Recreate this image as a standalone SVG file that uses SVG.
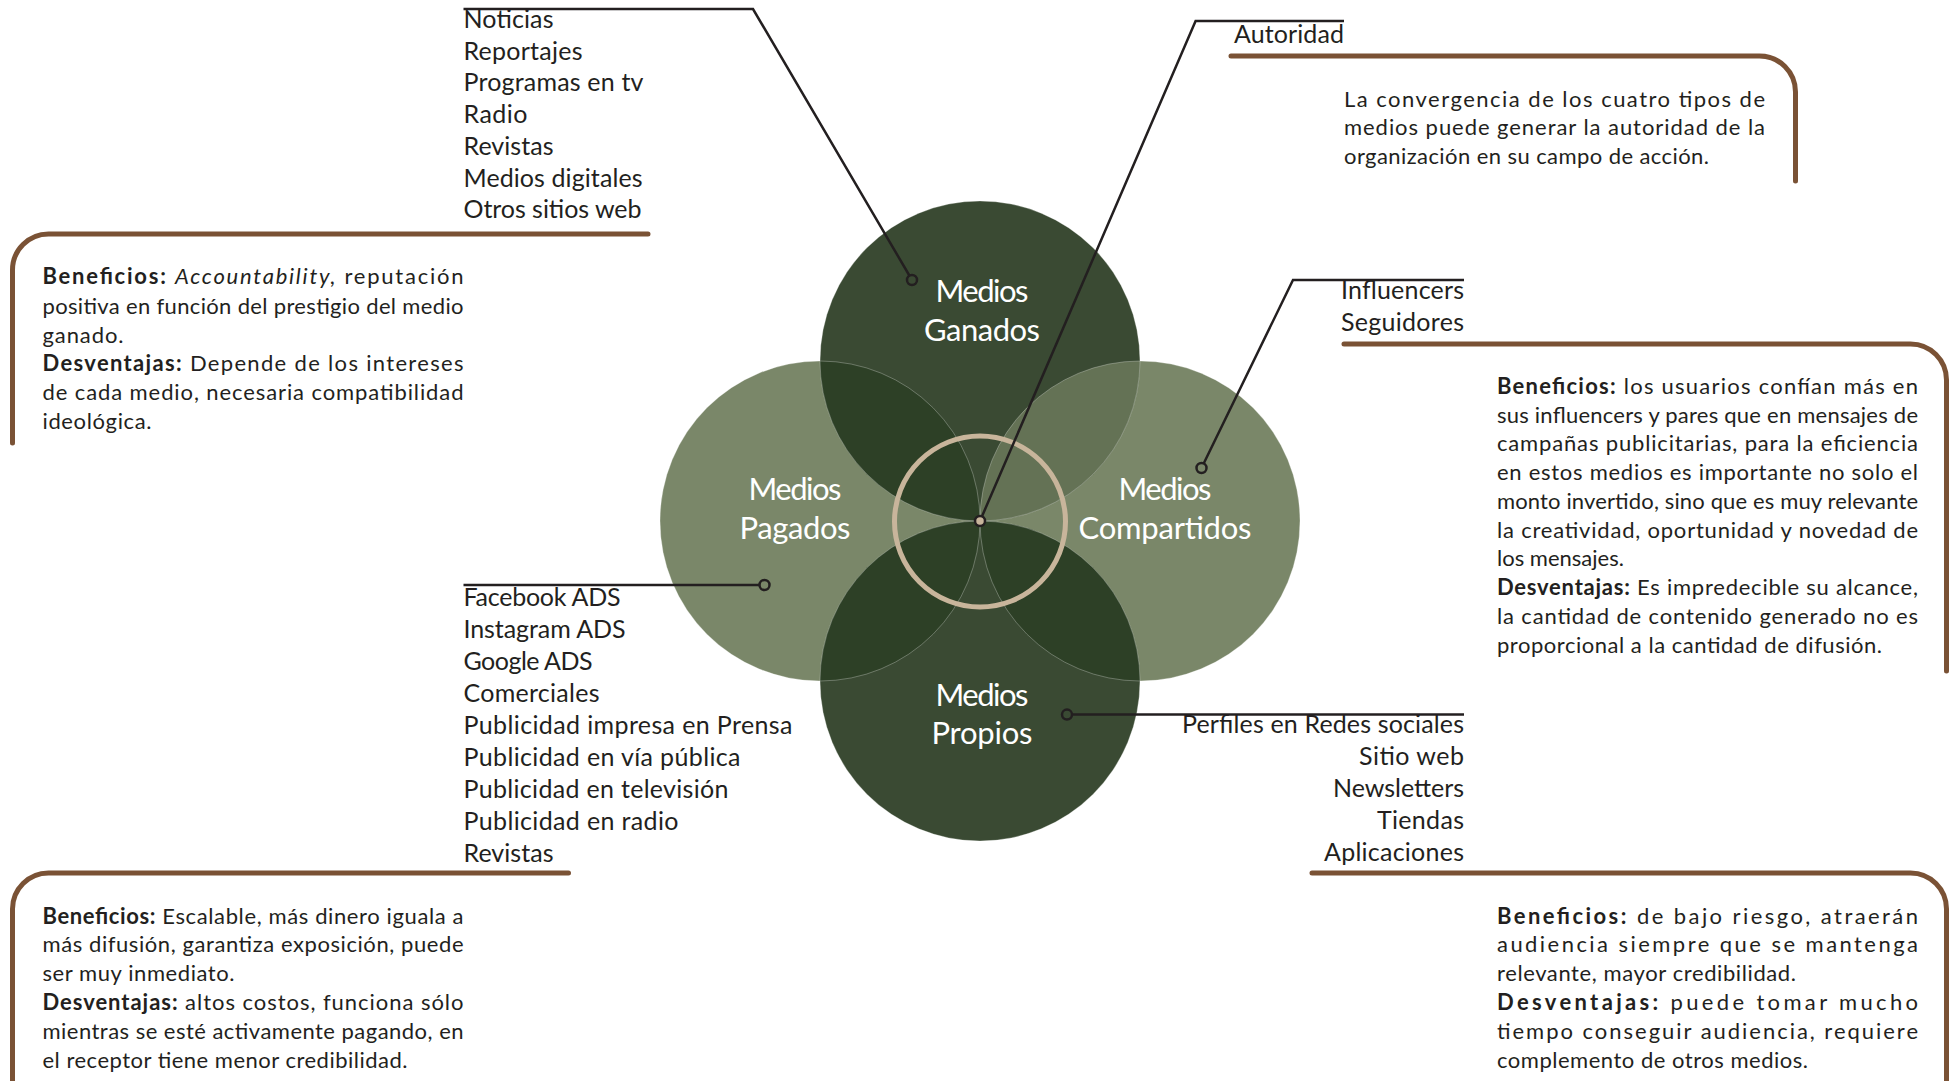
<svg xmlns="http://www.w3.org/2000/svg" width="1959" height="1081" viewBox="0 0 1959 1081">
  <style>
    .t{font-family:Lato,"Noto Sans",sans-serif;fill:#231f20}
    .li{font-size:25px}
    .p{font-size:22px}
    .b{font-weight:700}
    .i{font-style:italic}
    .lbl{font-family:Lato,"Noto Sans",sans-serif;font-size:31px;fill:#ffffff}
    .br{fill:none;stroke:#7a5235;stroke-width:5;stroke-linecap:round;stroke-linejoin:round}
    .ld{fill:none;stroke:#231f20;stroke-width:2.5;stroke-linejoin:miter}
    .dot{stroke:#231f20;stroke-width:2.5}
    .edge{fill:none;stroke:#ffffff;stroke-opacity:0.28;stroke-width:1}
  </style>
  <defs>
    <circle id="cG" cx="980" cy="361" r="160"/>
    <circle id="cP" cx="820" cy="521" r="160"/>
    <circle id="cC" cx="1140" cy="521" r="160"/>
    <circle id="cR" cx="980" cy="681" r="160"/>
    <clipPath id="clipP"><circle cx="820" cy="521" r="160"/></clipPath>
    <clipPath id="clipC"><circle cx="1140" cy="521" r="160"/></clipPath>
  </defs>

  <rect width="1959" height="1081" fill="#ffffff"/>

  <!-- Venn of the four media types -->
  <g id="venn">
    <use href="#cP" fill="#7a8769"/>
    <use href="#cC" fill="#7a8769"/>
    <use href="#cG" fill="#3a4a33"/>
    <use href="#cR" fill="#3a4a33"/>
    <g clip-path="url(#clipP)">
      <use href="#cG" fill="#2d4026"/>
      <use href="#cR" fill="#2d4026"/>
    </g>
    <g clip-path="url(#clipC)">
      <use href="#cG" fill="#647255"/>
      <use href="#cR" fill="#2d4026"/>
    </g>
    <use href="#cG" class="edge"/>
    <use href="#cP" class="edge"/>
    <use href="#cC" class="edge"/>
    <use href="#cR" class="edge"/>
  </g>

  <g id="medios-ganados">
    <text class="lbl" x="935.5" y="302" textLength="93" lengthAdjust="spacing">Medios</text>
    <text class="lbl" x="924" y="341" textLength="116" lengthAdjust="spacing">Ganados</text>
  </g>
  <g id="medios-pagados">
    <text class="lbl" x="748.5" y="500" textLength="93" lengthAdjust="spacing">Medios</text>
    <text class="lbl" x="739.5" y="539" textLength="111" lengthAdjust="spacing">Pagados</text>
  </g>
  <g id="medios-compartidos">
    <text class="lbl" x="1118.5" y="500" textLength="93" lengthAdjust="spacing">Medios</text>
    <text class="lbl" x="1078.5" y="539" textLength="173" lengthAdjust="spacing">Compartidos</text>
  </g>
  <g id="medios-propios">
    <text class="lbl" x="935.5" y="706" textLength="93" lengthAdjust="spacing">Medios</text>
    <text class="lbl" x="931.5" y="744" textLength="101" lengthAdjust="spacing">Propios</text>
  </g>

  <!-- convergence ring -->
  <g id="autoridad-centro">
    <circle cx="980" cy="521.5" r="85.5" fill="none" stroke="#c8b59b" stroke-width="5"/>
  </g>

  <!-- leader lines and anchor dots -->
  <g id="connectors">
    <path class="ld" d="M463.5,9 H753 L912,280"/>
    <path class="ld" d="M1344,21 H1195.6 L980,521"/>
    <path class="ld" d="M1464,280 H1293 L1201.5,468"/>
    <path class="ld" d="M463.5,585 H764.5"/>
    <path class="ld" d="M1464,714.6 H1067"/>
    <circle class="dot" cx="912" cy="280" r="5" fill="#3a4a33"/>
    <circle class="dot" cx="1201.5" cy="468" r="5" fill="#7a8769"/>
    <circle class="dot" cx="764.5" cy="585" r="5" fill="#7a8769"/>
    <circle class="dot" cx="1067" cy="714.6" r="5" fill="#3a4a33"/>
    <circle class="dot" cx="980" cy="521" r="5" fill="#c8b59b"/>
  </g>

  <!-- brown brackets -->
  <g id="brackets">
    <path class="br" d="M648,234 H48.5 A36,36 0 0 0 12.5,270 V443"/>
    <path class="br" d="M1231,56 H1759.5 A36,36 0 0 1 1795.5,92 V181"/>
    <path class="br" d="M1344,344 H1910.5 A36,36 0 0 1 1946.5,380 V671"/>
    <path class="br" d="M568.5,873 H48.5 A36,36 0 0 0 12.5,909 V1095"/>
    <path class="br" d="M1312,873 H1910.5 A36,36 0 0 1 1946.5,909 V1095"/>
  </g>

  <g id="lista-ganados" class="t li">
    <text x="463.5" y="28" textLength="90" lengthAdjust="spacing">Noticias</text>
    <text x="463.5" y="59.7" textLength="119" lengthAdjust="spacing">Reportajes</text>
    <text x="463.5" y="91.4" textLength="180" lengthAdjust="spacing">Programas en tv</text>
    <text x="463.5" y="123.1" textLength="64" lengthAdjust="spacing">Radio</text>
    <text x="463.5" y="154.8" textLength="90" lengthAdjust="spacing">Revistas</text>
    <text x="463.5" y="186.5" textLength="179" lengthAdjust="spacing">Medios digitales</text>
    <text x="463.5" y="218.2" textLength="178" lengthAdjust="spacing">Otros sitios web</text>
  </g>

  <g id="texto-ganados" class="t p">
    <text x="42.5" y="283.5" textLength="421" lengthAdjust="spacing"><tspan class="b">Beneficios:</tspan> <tspan class="i">Accountability,</tspan> reputación</text>
    <text x="42.5" y="313.5" textLength="421" lengthAdjust="spacing">positiva en función del prestigio del medio</text>
    <text x="42.5" y="342.5" textLength="81" lengthAdjust="spacing">ganado.</text>
    <text x="42.5" y="370.5" textLength="421" lengthAdjust="spacing"><tspan class="b">Desventajas:</tspan> Depende de los intereses</text>
    <text x="42.5" y="399.5" textLength="421" lengthAdjust="spacing">de cada medio, necesaria compatibilidad</text>
    <text x="42.5" y="428.5" textLength="109" lengthAdjust="spacing">ideológica.</text>
  </g>

  <g id="autoridad" class="t">
    <text class="li" x="1234" y="42.5" textLength="110" lengthAdjust="spacing">Autoridad</text>
    <g class="p">
      <text x="1344" y="106.5" textLength="421" lengthAdjust="spacing">La convergencia de los cuatro tipos de</text>
      <text x="1344" y="134.5" textLength="421" lengthAdjust="spacing">medios puede generar la autoridad de la</text>
      <text x="1344" y="163.5" textLength="365" lengthAdjust="spacing">organización en su campo de acción.</text>
    </g>
  </g>

  <g id="lista-compartidos" class="t li">
    <text x="1341" y="298.5" textLength="123" lengthAdjust="spacing">Influencers</text>
    <text x="1341" y="330.5" textLength="123" lengthAdjust="spacing">Seguidores</text>
  </g>

  <g id="texto-compartidos" class="t p">
    <text x="1497" y="393.5" textLength="421" lengthAdjust="spacing"><tspan class="b">Beneficios:</tspan> los usuarios confían más en</text>
    <text x="1497" y="422.5" textLength="421" lengthAdjust="spacing">sus influencers y pares que en mensajes de</text>
    <text x="1497" y="450.5" textLength="421" lengthAdjust="spacing">campañas publicitarias, para la eficiencia</text>
    <text x="1497" y="479.5" textLength="421" lengthAdjust="spacing">en estos medios es importante no solo el</text>
    <text x="1497" y="508.5" textLength="421" lengthAdjust="spacing">monto invertido, sino que es muy relevante</text>
    <text x="1497" y="537.5" textLength="421" lengthAdjust="spacing">la creatividad, oportunidad y novedad de</text>
    <text x="1497" y="565.5">los mensajes.</text>
    <text x="1497" y="594.5" textLength="421" lengthAdjust="spacing"><tspan class="b">Desventajas:</tspan> Es impredecible su alcance,</text>
    <text x="1497" y="623.5" textLength="421" lengthAdjust="spacing">la cantidad de contenido generado no es</text>
    <text x="1497" y="652.5" textLength="385" lengthAdjust="spacing">proporcional a la cantidad de difusión.</text>
  </g>

  <g id="lista-pagados" class="t li">
    <text x="463.5" y="606" textLength="157" lengthAdjust="spacing">Facebook ADS</text>
    <text x="463.5" y="638" textLength="162" lengthAdjust="spacing">Instagram ADS</text>
    <text x="463.5" y="670" textLength="129" lengthAdjust="spacing">Google ADS</text>
    <text x="463.5" y="702" textLength="136" lengthAdjust="spacing">Comerciales</text>
    <text x="463.5" y="734" textLength="329" lengthAdjust="spacing">Publicidad impresa en Prensa</text>
    <text x="463.5" y="766" textLength="277" lengthAdjust="spacing">Publicidad en vía pública</text>
    <text x="463.5" y="798" textLength="265" lengthAdjust="spacing">Publicidad en televisión</text>
    <text x="463.5" y="830" textLength="215" lengthAdjust="spacing">Publicidad en radio</text>
    <text x="463.5" y="862" textLength="90" lengthAdjust="spacing">Revistas</text>
  </g>

  <g id="texto-pagados" class="t p">
    <text x="42.5" y="923.5" textLength="421" lengthAdjust="spacing"><tspan class="b">Beneficios:</tspan> Escalable, más dinero iguala a</text>
    <text x="42.5" y="951.5" textLength="421" lengthAdjust="spacing">más difusión, garantiza exposición, puede</text>
    <text x="42.5" y="980.5" textLength="192" lengthAdjust="spacing">ser muy inmediato.</text>
    <text x="42.5" y="1009.5" textLength="421" lengthAdjust="spacing"><tspan class="b">Desventajas:</tspan> altos costos, funciona sólo</text>
    <text x="42.5" y="1038.5" textLength="421" lengthAdjust="spacing">mientras se esté activamente pagando, en</text>
    <text x="42.5" y="1067.5" textLength="365" lengthAdjust="spacing">el receptor tiene menor credibilidad.</text>
  </g>

  <g id="lista-propios" class="t li">
    <text x="1182" y="733" textLength="282" lengthAdjust="spacing">Perfiles en Redes sociales</text>
    <text x="1359" y="765" textLength="105" lengthAdjust="spacing">Sitio web</text>
    <text x="1333" y="797" textLength="131" lengthAdjust="spacing">Newsletters</text>
    <text x="1377" y="829" textLength="87" lengthAdjust="spacing">Tiendas</text>
    <text x="1324" y="861" textLength="140" lengthAdjust="spacing">Aplicaciones</text>
  </g>

  <g id="texto-propios" class="t p">
    <text x="1497" y="923.5" textLength="421" lengthAdjust="spacing"><tspan class="b">Beneficios:</tspan> de bajo riesgo, atraerán</text>
    <text x="1497" y="951.5" textLength="421" lengthAdjust="spacing">audiencia siempre que se mantenga</text>
    <text x="1497" y="980.5" textLength="299" lengthAdjust="spacing">relevante, mayor credibilidad.</text>
    <text x="1497" y="1009.5" textLength="421" lengthAdjust="spacing"><tspan class="b">Desventajas:</tspan> puede tomar mucho</text>
    <text x="1497" y="1038.5" textLength="421" lengthAdjust="spacing">tiempo conseguir audiencia, requiere</text>
    <text x="1497" y="1067.5" textLength="311" lengthAdjust="spacing">complemento de otros medios.</text>
  </g>
</svg>
